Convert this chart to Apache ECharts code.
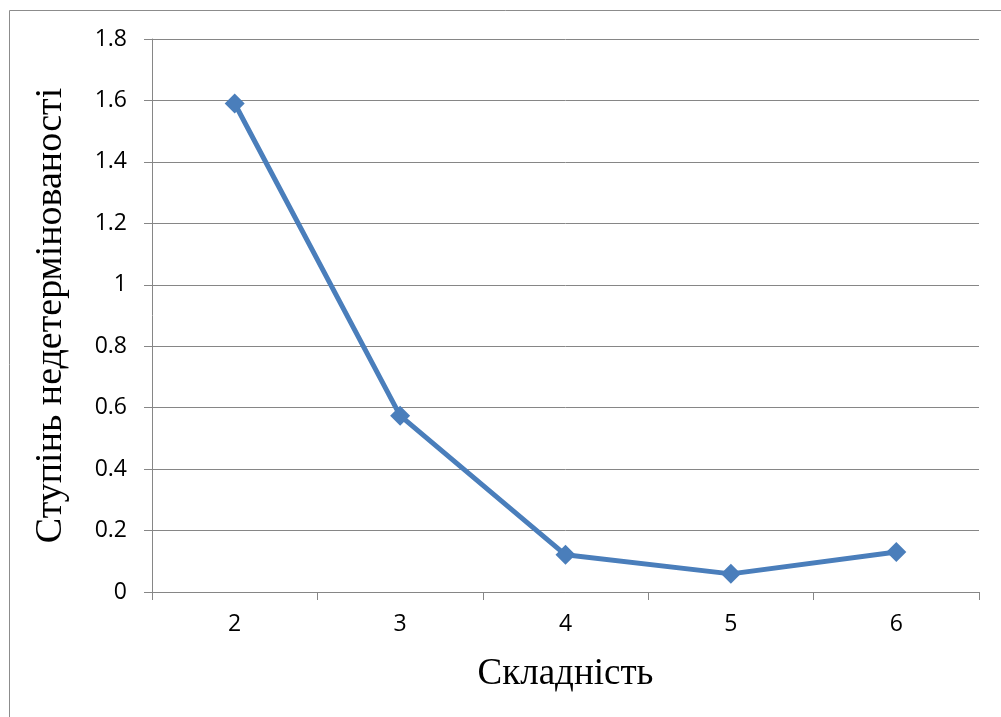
<!DOCTYPE html>
<html><head><meta charset="utf-8">
<script src="https://cdn.jsdelivr.net/npm/echarts@6/dist/echarts.min.js"></script>
<style>html,body{margin:0;padding:0;background:#fff}#c{width:1001px;height:717px}</style>
</head><body><div id="c"></div>
<script>
const categories = ['2', '3', '4', '5', '6'];
const values = [1.59, 0.574, 0.121, 0.059, 0.13];
const yTicks = ['0', '0.2', '0.4', '0.6', '0.8', '1', '1.2', '1.4', '1.6', '1.8'];
const xTitle = 'Складність';
const yTitle = 'Ступінь недетермінованості';

const chart = echarts.init(document.getElementById('c'));
const gray = '#868686';
chart.setOption({
  animation: false,
  graphic: [{
    type: 'rect', shape: { x: 9.5, y: 10.5, width: 1100, height: 800 },
    style: { fill: 'none', stroke: '#8c8c8c', lineWidth: 1 }, silent: true
  }],
  grid: { left: 152, right: 22, top: 39, bottom: 125 },
  xAxis: {
    type: 'category', data: categories, boundaryGap: true,
    name: xTitle, nameLocation: 'middle', nameGap: 64,
    nameTextStyle: { fontFamily: 'Liberation Serif', fontSize: 37, color: '#000' },
    axisLine: { lineStyle: { color: gray, width: 1 } },
    axisTick: { show: true, length: 8, inside: false, alignWithLabel: false, lineStyle: { color: gray } },
    axisLabel: { fontFamily: 'Open Sans', fontSize: 23, color: '#000', margin: 21 },
    splitLine: { show: false }
  },
  yAxis: {
    type: 'value', min: 0, max: 1.8, interval: 0.2,
    name: yTitle, nameLocation: 'middle', nameGap: 82, nameRotate: 90,
    nameTextStyle: { fontFamily: 'Liberation Serif', fontSize: 38, color: '#000' },
    axisLine: { show: true, lineStyle: { color: gray, width: 1 } },
    axisTick: { show: true, length: 8, lineStyle: { color: gray } },
    axisLabel: { fontFamily: 'Open Sans', fontSize: 23, color: '#000', margin: 25,
      formatter: (v) => { const i = Math.round(v / 0.2); return yTicks[i] ?? String(v); } },
    splitLine: { show: true, lineStyle: { color: gray, width: 1 } }
  },
  series: [{
    type: 'line', data: values,
    lineStyle: { color: '#4a7ebb', width: 5 },
    itemStyle: { color: '#4a7ebb' },
    symbol: 'diamond', symbolSize: 20, showAllSymbol: true
  }]
});
</script></body></html>
